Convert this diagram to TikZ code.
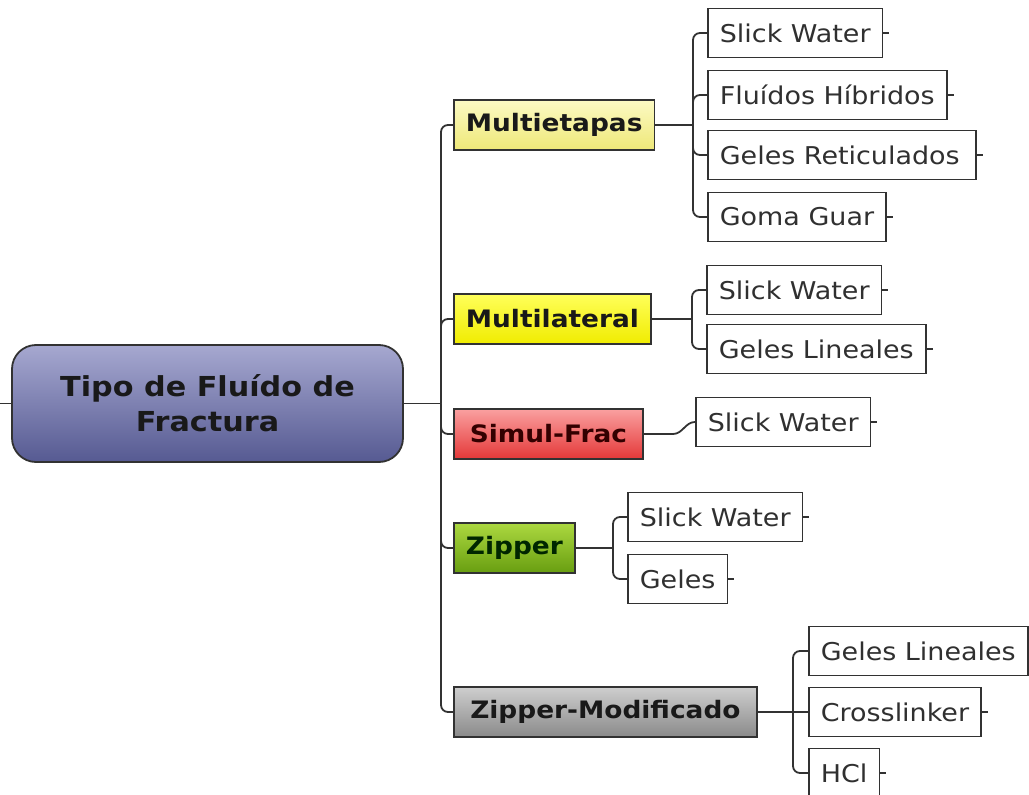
\documentclass[tikz,border=0pt]{standalone}
\usepackage{fontspec}
\newfontfamily\mapfont[FakeStretch=1.1]{DejaVu Sans}
\usetikzlibrary{positioning}

%% colours of the map
\definecolor{rootTop}{RGB}{166,168,208}
\definecolor{rootBot}{RGB}{86,90,146}
\definecolor{meTop}{RGB}{252,250,196}
\definecolor{meBot}{RGB}{238,232,120}
\definecolor{mlTop}{RGB}{255,255,90}
\definecolor{mlBot}{RGB}{240,236,0}
\definecolor{sfTop}{RGB}{250,160,160}
\definecolor{sfBot}{RGB}{228,56,56}
\definecolor{zpTop}{RGB}{172,216,64}
\definecolor{zpBot}{RGB}{104,158,16}
\definecolor{zmTop}{RGB}{206,206,206}
\definecolor{zmBot}{RGB}{138,138,138}
\definecolor{lineGray}{RGB}{50,50,50}
\definecolor{leafText}{RGB}{48,48,48}

\begin{document}
\begin{tikzpicture}[
  x=1pt, y=-1pt,
  %% ── node styles ────────────────────────────────────────────────────
  %% Central topic
  ROOT/.style={rectangle, rounded corners=24pt, draw=lineGray, line width=1.8pt,
               top color=rootTop, bottom color=rootBot,
               minimum width=391pt, minimum height=117pt,
               align=center, text=black!90,
               font=\mapfont\fontsize{27.5}{35}\selectfont\bfseries},
  %% Main branches
  BR/.style  ={rectangle, draw=lineGray, line width=1.8pt,
               minimum height=50pt, inner xsep=12pt, anchor=west,
               text=black!90, font=\mapfont\fontsize{24}{28}\selectfont\bfseries},
  %% Leaves
  LF/.style  ={rectangle, draw=lineGray, line width=1.7pt, fill=white,
               minimum height=49pt, inner xsep=12pt, anchor=west,
               text=leafText, font=\mapfont\fontsize{24.5}{28}\selectfont},
  %% Connectors
  con/.style ={draw=lineGray, line width=1.8pt},
  brace/.style={con, rounded corners=7pt},
]
\useasboundingbox (0,0) rectangle (1029,795);

%% ════════════════════════════════════════════════════════════════════
%% CENTRAL TOPIC
%% ════════════════════════════════════════════════════════════════════
\node[ROOT] (root) at (207.5,403.5) {Tipo de Fluído de\\Fractura};

\coordinate (inleft) at (0,403.5);
\coordinate (trunk)  at (441,403.5);
\draw[con] (inleft) -- (root.west);
\draw[con] (root.east) -- (trunk);

%% ════════════════════════════════════════════════════════════════════
%% MAIN BRANCHES  (west edge at x=453)
%% ════════════════════════════════════════════════════════════════════
\node[BR, top color=meTop, bottom color=meBot] (metapas) at (453,125) {Multietapas};
\node[BR, top color=mlTop, bottom color=mlBot] (mlat)    at (453,319) {Multilateral};
\node[BR, top color=sfTop, bottom color=sfBot, minimum width=189pt,
      text=black!80!red]                       (simul)   at (453,434) {Simul-Frac};
\node[BR, top color=zpTop, bottom color=zpBot,
      text=black!85!green]                     (zipper)  at (453,548) {Zipper};
\node[BR, top color=zmTop, bottom color=zmBot,
      minimum width=303pt]                     (zmod)    at (453,712) {Zipper-Modificado};

%% trunk into each branch
\foreach \b in {metapas, mlat, simul, zipper, zmod}
  \draw[brace] (trunk) |- (\b.west);

%% ════════════════════════════════════════════════════════════════════
%% LEAVES
%% ════════════════════════════════════════════════════════════════════

%% Multietapas
\node[LF] (me1) at (707, 33) {Slick Water};
\node[LF] (me2) at (707, 95) {Fluídos Híbridos};
\node[LF] (me3) at (707,155) {Geles Reticulados\,};
\node[LF] (me4) at (707,217) {Goma Guar};
\coordinate (meJ) at (693,125);
\draw[con] (metapas.east) -- (meJ);

%% Multilateral
\node[LF] (ml1) at (706,290) {Slick Water};
\node[LF] (ml2) at (706,349) {Geles Lineales};
\coordinate (mlJ) at (692,319);
\draw[con] (mlat.east) -- (mlJ);

%% Simul-Frac
\node[LF] (sf1) at (695,422) {Slick Water};
\coordinate (sfJ) at (673,434);
\draw[con] (simul.east) -- (sfJ) to[out=0, in=180] (sf1.west);

%% Zipper
\node[LF] (zp1) at (627,517) {Slick Water};
\node[LF] (zp2) at (627,579) {Geles};
\coordinate (zpJ) at (613,548);
\draw[con] (zipper.east) -- (zpJ);

%% Zipper-Modificado
\node[LF] (zm1) at (808,651) {Geles Lineales};
\node[LF] (zm2) at (808,712) {Crosslinker};
\node[LF] (zm3) at (808,773) {HCl};
\coordinate (zmJ) at (793,712);
\draw[con] (zmod.east) -- (zm2.west);

%% brace lines from each junction to its leaves
\foreach \j/\l in {meJ/me1, meJ/me2, meJ/me3, meJ/me4,
                   mlJ/ml1, mlJ/ml2,
                   zpJ/zp1, zpJ/zp2,
                   zmJ/zm1, zmJ/zm3}
  \draw[brace] (\j) |- (\l.west);

%% little stubs on the right of every leaf
\foreach \l in {me1, me2, me3, me4, ml1, ml2, sf1, zp1, zp2, zm1, zm2, zm3}
  \draw[con, line width=1.3pt] (\l.east) -- ++(6,0);

\end{tikzpicture}
\end{document}
